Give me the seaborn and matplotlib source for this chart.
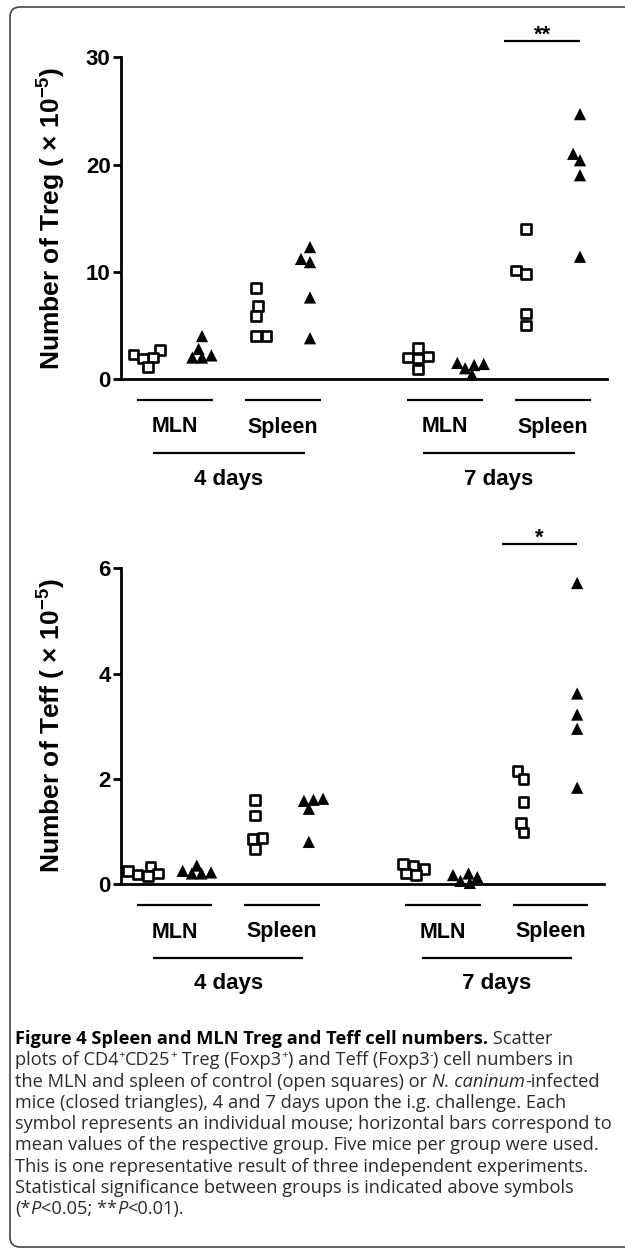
import numpy as np
import pandas as pd
import seaborn as sns
import matplotlib
matplotlib.use("Agg")
import matplotlib.pyplot as plt
from matplotlib import transforms as mtrans
from matplotlib.patches import FancyBboxPatch
from matplotlib.font_manager import FontProperties

# ---------------- data ----------------
DAYS = ["4 days", "7 days"]
TISSUES = ["MLN", "Spleen"]
GROUPS = ["control", "infected"]

# Treg numbers (x 10^-5)
treg_4d_mln_ctrl = [2.7, 2.3, 2.0, 1.9, 1.1]
treg_4d_mln_inf = [4.0, 2.8, 2.2, 2.0, 2.0]
treg_4d_spl_ctrl = [8.5, 6.8, 5.9, 4.0, 4.0]
treg_4d_spl_inf = [12.3, 11.2, 10.9, 7.6, 3.8]
treg_7d_mln_ctrl = [2.9, 2.1, 2.0, 1.9, 0.9]
treg_7d_mln_inf = [1.5, 1.4, 1.3, 1.0, 0.4]
treg_7d_spl_ctrl = [14.0, 10.1, 9.8, 6.1, 5.0]
treg_7d_spl_inf = [24.7, 21.0, 20.4, 19.0, 11.4]

# Teff numbers (x 10^-5)
teff_4d_mln_ctrl = [0.33, 0.25, 0.20, 0.18, 0.15]
teff_4d_mln_inf = [0.35, 0.25, 0.22, 0.20, 0.20]
teff_4d_spl_ctrl = [1.60, 1.30, 0.87, 0.85, 0.67]
teff_4d_spl_inf = [1.62, 1.60, 1.58, 1.43, 0.80]
teff_7d_mln_ctrl = [0.38, 0.35, 0.28, 0.20, 0.17]
teff_7d_mln_inf = [0.20, 0.17, 0.13, 0.06, 0.02]
teff_7d_spl_ctrl = [2.15, 2.00, 1.56, 1.16, 0.98]
teff_7d_spl_inf = [5.72, 3.62, 3.22, 2.95, 1.83]

TREG_TICKS = [0, 10, 20, 30]
TEFF_TICKS = [0, 2, 4, 6]
TREG_LABEL = r"Number of Treg ( $\times$ 10$^{-5}$)"
TEFF_LABEL = r"Number of Teff ( $\times$ 10$^{-5}$)"
TREG_SIG = "**"
TEFF_SIG = "*"

CAPTION = [
    [("Figure 4 Spleen and MLN Treg and Teff cell numbers.", "b"), (" Scatter", "r")],
    [("plots of CD4", "r"), ("+", "sup"), ("CD25", "r"), ("+", "sup"), (" Treg (Foxp3", "r"),
     ("+", "sup"), (") and Teff (Foxp3", "r"), ("-", "sup"), (") cell numbers in", "r")],
    [("the MLN and spleen of control (open squares) or ", "r"), ("N. caninum", "i"), ("-infected", "r")],
    [("mice (closed triangles), 4 and 7 days upon the i.g. challenge. Each", "r")],
    [("symbol represents an individual mouse; horizontal bars correspond to", "r")],
    [("mean values of the respective group. Five mice per group were used.", "r")],
    [("This is one representative result of three independent experiments.", "r")],
    [("Statistical significance between groups is indicated above symbols", "r")],
    [("(*", "r"), ("P", "i"), ("<0.05; **", "r"), ("P", "i"), ("<0.01).", "r")],
]


def build_df(d):
    rows = []
    for (day, tissue, group), vals in d.items():
        for v in vals:
            rows.append({"day": day, "tissue": tissue, "group": group,
                         "cond": f"{day}|{tissue}|{group}", "value": v})
    return pd.DataFrame(rows)


treg = build_df({
    ("4 days", "MLN", "control"): treg_4d_mln_ctrl,
    ("4 days", "MLN", "infected"): treg_4d_mln_inf,
    ("4 days", "Spleen", "control"): treg_4d_spl_ctrl,
    ("4 days", "Spleen", "infected"): treg_4d_spl_inf,
    ("7 days", "MLN", "control"): treg_7d_mln_ctrl,
    ("7 days", "MLN", "infected"): treg_7d_mln_inf,
    ("7 days", "Spleen", "control"): treg_7d_spl_ctrl,
    ("7 days", "Spleen", "infected"): treg_7d_spl_inf,
})
teff = build_df({
    ("4 days", "MLN", "control"): teff_4d_mln_ctrl,
    ("4 days", "MLN", "infected"): teff_4d_mln_inf,
    ("4 days", "Spleen", "control"): teff_4d_spl_ctrl,
    ("4 days", "Spleen", "infected"): teff_4d_spl_inf,
    ("7 days", "MLN", "control"): teff_7d_mln_ctrl,
    ("7 days", "MLN", "infected"): teff_7d_mln_inf,
    ("7 days", "Spleen", "control"): teff_7d_spl_ctrl,
    ("7 days", "Spleen", "infected"): teff_7d_spl_inf,
})

ORDER = []
for i, day in enumerate(DAYS):
    if i > 0:
        ORDER.append("gap")
    for tissue in TISSUES:
        for group in GROUPS:
            ORDER.append(f"{day}|{tissue}|{group}")

# ---------------- style ----------------
W, H, DPI = 625, 1252, 100
SQ_SIZE, TRI_SIZE = 6.9, 8.8      # final marker sizes (pt)
PACK = 0.75                        # swarm packing computed at this fraction of marker size

sns.set_theme(style="ticks")
plt.rcParams["font.family"] = ["Liberation Sans", "DejaVu Sans"]
plt.rcParams["mathtext.default"] = "regular"

fig = plt.figure(figsize=(W / DPI, H / DPI), dpi=DPI)
fig.patch.set_facecolor("white")

FINAL_SIZES = []   # (collection, final marker size)


def px_rect(left, top, right, bottom):
    return [left / W, 1 - bottom / H, (right - left) / W, (bottom - top) / H]


def draw_panel(ax, df, ymax, yticks, ylabel, sig, sig_off, label_y):
    n0 = len(ax.collections)
    sns.swarmplot(data=df[df.group == "control"], x="cond", y="value", order=ORDER,
                  marker="s", size=SQ_SIZE * PACK, color="white", edgecolor="black",
                  linewidth=1.9, ax=ax, warn_thresh=1)
    n1 = len(ax.collections)
    sns.swarmplot(data=df[df.group == "infected"], x="cond", y="value", order=ORDER,
                  marker="^", size=TRI_SIZE * PACK, color="black", edgecolor="black",
                  linewidth=0, ax=ax, warn_thresh=1)
    n2 = len(ax.collections)
    for c in ax.collections[n0:n1]:
        FINAL_SIZES.append((c, SQ_SIZE))
    for c in ax.collections[n1:n2]:
        FINAL_SIZES.append((c, TRI_SIZE))
    for c in ax.collections:
        c.set_clip_on(False)
    ax.set_xlim(-0.5, len(ORDER) - 0.5)
    ax.set_ylim(0, ymax)
    ax.set_xticks([])
    ax.set_yticks(yticks)
    ax.set_xlabel("")
    ax.set_ylabel("")
    ax.set_facecolor("none")
    for s in ["top", "right"]:
        ax.spines[s].set_visible(False)
    for s in ["left", "bottom"]:
        ax.spines[s].set_linewidth(2.0)
        ax.spines[s].set_color("black")
    ax.tick_params(axis="y", length=6, width=2.0, labelsize=16, pad=1.5,
                   color="black", labelcolor="black")
    for lbl in ax.get_yticklabels():
        lbl.set_fontweight("bold")

    blend = mtrans.blended_transform_factory(ax.transData, ax.transAxes)

    def off(dy):
        return mtrans.offset_copy(blend, fig=fig, x=0, y=dy, units="dots")

    # tissue group lines + labels
    for day in DAYS:
        day_idx = []
        for tissue in TISSUES:
            idx = [ORDER.index(f"{day}|{tissue}|{g}") for g in GROUPS]
            day_idx += idx
            c = np.mean(idx)
            ax.plot([c - 0.7, c + 0.7], [0, 0], transform=off(-21), color="black",
                    lw=1.6, clip_on=False, solid_capstyle="butt")
            ax.text(c, 0, tissue, transform=off(-48), ha="center", va="center",
                    fontsize=15.5, fontweight="bold", color="black")
        c = np.mean(day_idx)
        ax.plot([c - 1.4, c + 1.4], [0, 0], transform=off(-74), color="black",
                lw=1.6, clip_on=False, solid_capstyle="butt")
        ax.text(c, 0, day, transform=off(-100), ha="center", va="center",
                fontsize=16, fontweight="bold", color="black")

    # significance bar (7 days spleen)
    i0 = ORDER.index("7 days|Spleen|control")
    i1 = ORDER.index("7 days|Spleen|infected")
    x0, x1 = i0 - 0.4, i1
    t_line = mtrans.offset_copy(blend, fig=fig, x=0, y=sig_off, units="dots")
    ax.plot([x0, x1], [1, 1], transform=t_line, color="black", lw=1.6,
            clip_on=False, solid_capstyle="butt")
    t_star = mtrans.offset_copy(blend, fig=fig, x=0, y=sig_off + 1, units="dots")
    ax.text((x0 + x1) / 2, 1, sig, transform=t_star, ha="center", va="baseline",
            fontsize=16, fontweight="bold", color="black")

    fig.text(52 / W, 1 - label_y / H, ylabel, rotation=90, ha="center", va="center",
             fontsize=19, fontweight="bold", color="black")


ax_top = fig.add_axes(px_rect(121, 57.3, 607, 379))
ax_bot = fig.add_axes(px_rect(121, 568.3, 604, 884))
draw_panel(ax_top, treg, 30, TREG_TICKS, TREG_LABEL, TREG_SIG, 16, (57.3 + 379) / 2)
draw_panel(ax_bot, teff, 6, TEFF_TICKS, TEFF_LABEL, TEFF_SIG, 24, (568.3 + 884) / 2)

# let seaborn compute the swarm layout with the final limits, then freeze it
# and show the markers at their full size (so neighbours overlap as in the figure)
fig.canvas.draw()
for c, size in FINAL_SIZES:
    if "draw" in c.__dict__:
        del c.draw
    n = max(len(c.get_offsets()), 1)
    c.set_sizes([size ** 2] * n)

# ---------------- frame ----------------
frame = FancyBboxPatch((10, H - 1247), 650, 1247 - 7,
                       boxstyle="round,pad=0,rounding_size=10",
                       transform=mtrans.IdentityTransform(), fill=False,
                       edgecolor="#444444", linewidth=1.2)
fig.patches.append(frame)

# ---------------- caption ----------------
CAP_FONT = "Open Sans"
CAP_TARGETS = [598, 600, 596, 550, 600, 600, 590, 567, 190]   # approx. line widths in px
renderer = fig.canvas.get_renderer()


def props(style, size):
    return FontProperties(family=CAP_FONT, size=size,
                          weight="bold" if style == "b" else "normal",
                          style="italic" if style == "i" else "normal")


def text_w(txt, style, size):
    fp = props(style, size)
    w1 = renderer.get_text_width_height_descent("|" + txt + "|", fp, ismath=False)[0]
    w0 = renderer.get_text_width_height_descent("||", fp, ismath=False)[0]
    return w1 - w0


def run_size(style, size):
    return size * 0.62 if style == "sup" else size


def line_w(runs, size):
    return sum(text_w(t, s, run_size(s, size)) for t, s in runs)


base = 12.0
cap_size = min(base * tgt / line_w(runs, base) for runs, tgt in zip(CAPTION, CAP_TARGETS))

for k, runs in enumerate(CAPTION):
    x = 15.0
    baseline = 1044 + 21.3 * k
    for txt, style in runs:
        fs = run_size(style, cap_size)
        dy = cap_size * 0.40 * DPI / 72 if style == "sup" else 0
        fp = props(style, fs)
        fig.text(x / W, 1 - (baseline - dy) / H, txt, fontproperties=fp,
                 ha="left", va="baseline",
                 color="black" if style == "b" else "#2a2a2a")
        x += text_w(txt, style, fs)

fig.savefig("out.png", dpi=DPI, facecolor="white")
